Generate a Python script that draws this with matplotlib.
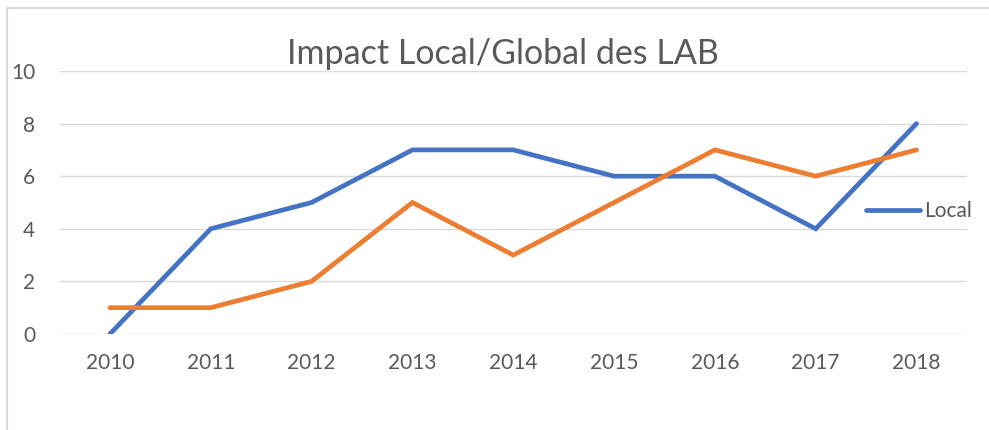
import matplotlib
matplotlib.use("Agg")
import matplotlib.pyplot as plt
from matplotlib.lines import Line2D

BLUE = "#4472C4"
ORANGE = "#ED7D31"
TEXT = "#595959"
GRID = "#D9D9D9"

years = ["2010", "2011", "2012", "2013", "2014", "2015", "2016", "2017", "2018"]
local = [0, 4, 5, 7, 7, 6, 6, 4, 8]
global_ = [1, 1, 2, 5, 3, 5, 7, 6, 7]
y_ticks = [0, 2, 4, 6, 8, 10]

plt.rcParams['font.family'] = ['Lato', 'DejaVu Sans']

fig = plt.figure(figsize=(9.89, 4.30), dpi=100)
ax = fig.add_axes([0.0602, 0.2233, 0.9175, 0.6116])

x = range(len(years))
l_local, = ax.plot(x, local, color=BLUE, linewidth=3.4, solid_capstyle='round', solid_joinstyle='miter', zorder=3)
ax.plot(x, global_, color=ORANGE, linewidth=3.4, solid_capstyle='round', solid_joinstyle='miter', zorder=3)

ax.set_xlim(-0.5, len(years) - 0.5)
ax.set_ylim(0, 10)
ax.set_xticks(list(x))
ax.set_xticklabels(years)
ax.set_yticks(y_ticks)
ax.tick_params(axis='both', length=0, labelsize=15, colors=TEXT)
ax.tick_params(axis='x', pad=14)
ax.tick_params(axis='y', pad=17.5)
ax.grid(True, axis='y', color=GRID, linewidth=1)
ax.set_axisbelow(True)
for s in ax.spines.values():
    s.set_visible(False)

fig.text(0.509, 0.875, "Impact Local/Global des LAB", ha='center', va='center', fontsize=24.5, color=TEXT)

ax.legend(handles=[l_local], labels=["Local"], loc='center left', bbox_to_anchor=(0.868, 0.468),
          frameon=False, fontsize=15, handlelength=2.6, handletextpad=0.2, labelcolor=TEXT)

# outer chart border (only top and left are visible in the crop)
fig.add_artist(Line2D([7 / 989, 7 / 989], [0, 1 - 8 / 430], transform=fig.transFigure, color=GRID, linewidth=1.5))
fig.add_artist(Line2D([7 / 989, 1], [1 - 8 / 430, 1 - 8 / 430], transform=fig.transFigure, color=GRID, linewidth=1.5))

fig.savefig("out.png", dpi=100)
